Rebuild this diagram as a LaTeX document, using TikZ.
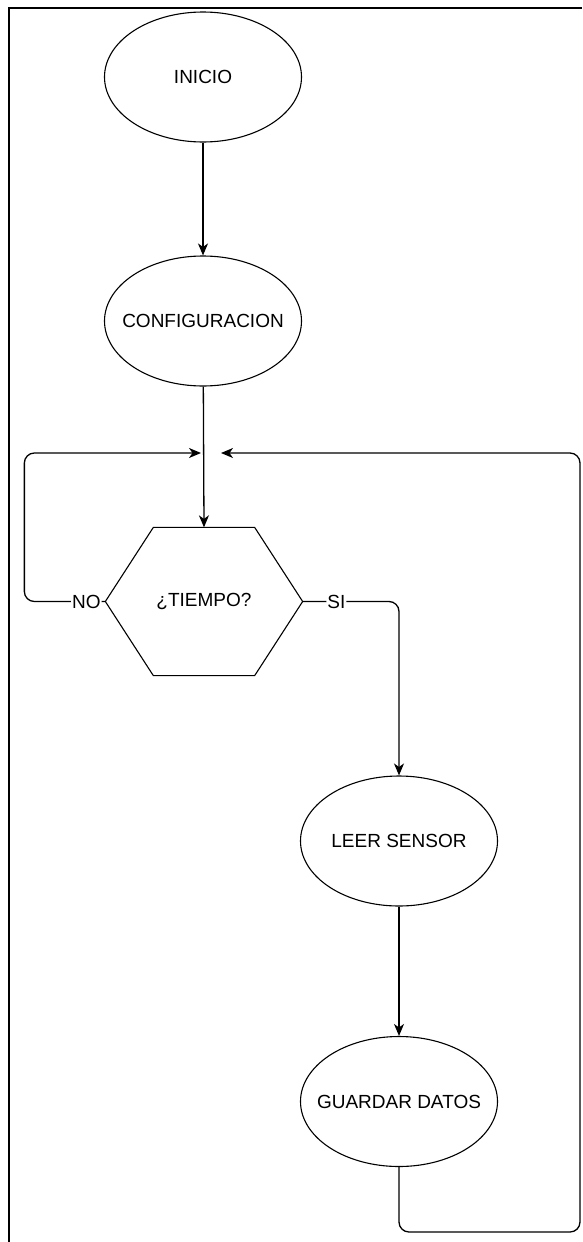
\documentclass[tikz,border=0pt]{standalone}
\usepackage{fontspec}
\setmainfont{Liberation Sans}
\usetikzlibrary{calc, arrows.meta, shapes.geometric}

\begin{document}
\begin{tikzpicture}[x=1pt, y=-1pt, line width=1.3pt,
  proc/.style={draw, ellipse, line width=1.1pt, minimum width=197pt, minimum height=130pt,
    inner sep=0pt, inner xsep=-40pt, font=\fontsize{19}{22}\selectfont},
  decide/.style={minimum width=196pt, minimum height=147pt, inner sep=0pt,
    font=\fontsize{19}{22}\selectfont},
  flow/.style={-{Stealth[length=12pt, width=10pt, inset=3.5pt]}},
  lbl/.style={fill=white, inner sep=1pt, font=\fontsize{19}{22}\selectfont}]
  \useasboundingbox (0,0) rectangle (582,1242);
  \draw[line width=2.2pt] (9,1242) -- (9,8) -- (582,8);

  \coordinate (joinL) at (201,453);
  \coordinate (joinR) at (221,453);
  \coordinate (loopR) at (580,1232);

  \node[proc] (inicio) at (203,77) {INICIO};
  \node[proc] (config) at (203,321) {CONFIGURACION};
  \node[decide] (tiempo) at (204,601.5) {¿TIEMPO?};
  \node[proc] (leer) at (399,841) {LEER SENSOR};
  \node[proc] (guardar) at (399,1101.5) {GUARDAR DATOS};

  \draw[line width=1.1pt] ($(tiempo.north west)+(48,0)$) -- ($(tiempo.north east)+(-48,0)$)
    -- (tiempo.east) -- ($(tiempo.south east)+(-48,0)$)
    -- ($(tiempo.south west)+(48,0)$) -- (tiempo.west) -- cycle;

  \draw[flow] (inicio) -- (config);
  \draw[flow] (config) -- (tiempo.north);
  \draw[flow, rounded corners=10pt] (tiempo.west) -- node[lbl, pos=0.235] {NO} ++(-81,0) |- (joinL);
  \draw[flow, rounded corners=10pt] (tiempo.east) -- node[lbl, pos=0.35] {SI} (leer.north |- tiempo.east) -- (leer.north);
  \draw[flow] (leer) -- (guardar);

  % 循环返回
  \draw[flow, rounded corners=10pt] (guardar.south) |- (loopR) |- (joinR);
\end{tikzpicture}
\end{document}
